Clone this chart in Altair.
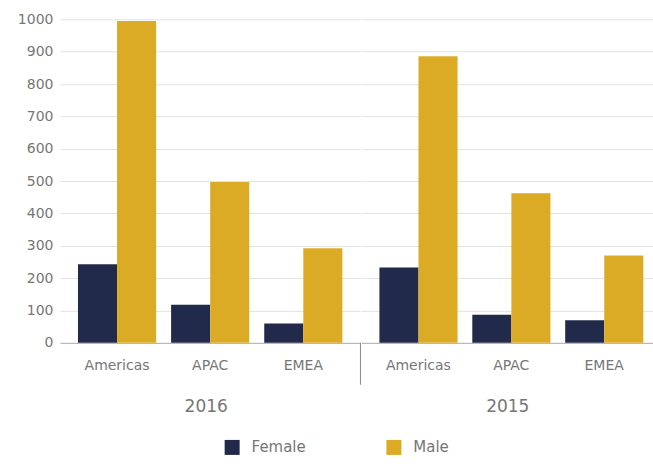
import altair as alt
import pandas as pd

regions = ["Americas", "APAC", "EMEA"]
years = ["2016", "2015"]
genders = ["Female", "Male"]
female_2016 = [243, 118, 60]
male_2016 = [995, 497, 292]
female_2015 = [233, 87, 70]
male_2015 = [886, 462, 270]

series = {
    ("2016", "Female"): female_2016,
    ("2016", "Male"): male_2016,
    ("2015", "Female"): female_2015,
    ("2015", "Male"): male_2015,
}
rows = []
for (yr, g), vals in series.items():
    for r, v in zip(regions, vals):
        rows.append({"year": yr, "gender": g, "region": r, "value": v})
df = pd.DataFrame(rows)

NAVY = "#212a4a"
GOLD = "#dcab26"
TXT = "#767676"
FONT = "DejaVu Sans"
PW = 301
PW2 = 292
PH = 324
GRID = {"condition": {"test": "datum.value === 0", "value": "#a8a8a8"}, "value": "#e2e2e2"}


def panel(year, first):
    sub = df[df["year"] == year]
    if first:
        yaxis = alt.Axis(title=None, values=list(range(0, 1001, 100)), format="d", domain=False,
                         ticks=False, gridColor=GRID, labelPadding=7, labelFontSize=14,
                         labelColor=TXT, labelFont=FONT)
        xscale = alt.Scale(paddingInner=0.161, paddingOuter=0.194)
    else:
        yaxis = alt.Axis(title=None, values=list(range(0, 1001, 100)), labels=False, domain=False,
                         ticks=False, gridColor=GRID)
        xscale = alt.Scale(paddingInner=0.161, paddingOuter=0.15, align=0.645)
    bars = alt.Chart(sub).mark_bar().encode(
        x=alt.X("region:N", sort=regions, scale=xscale,
                axis=alt.Axis(title=year, labelAngle=0, ticks=False, domain=False,
                              labelPadding=16, labelFontSize=14, labelColor=TXT, labelFont=FONT,
                              titleFontSize=17, titleFontWeight="normal", titleColor=TXT,
                              titleFont=FONT, titlePadding=26, titleX=146, titleAlign="center")),
        xOffset=alt.XOffset("gender:N", sort=genders),
        y=alt.Y("value:Q", scale=alt.Scale(domain=[0, 1000]), axis=yaxis),
        color=alt.Color("gender:N", scale=alt.Scale(domain=genders, range=[NAVY, GOLD]),
                        legend=alt.Legend(title=None, orient="none", legendX=165, legendY=421,
                                          direction="horizontal", symbolType="square",
                                          symbolSize=225, symbolStrokeWidth=0, labelFontSize=15,
                                          labelOffset=12, columnPadding=80, labelColor=TXT,
                                          labelFont=FONT)),
    )
    layers = [bars]
    if first:
        sep = alt.Chart(sub).mark_rule(color="#888888", strokeWidth=1).encode(
            x=alt.value(PW), y=alt.value(PH), y2=alt.value(PH + 42)
        ).transform_filter("datum.region == 'Americas' && datum.gender == 'Female'")
        layers.append(sep)
    return alt.layer(*layers).properties(width=PW if first else PW2, height=PH)


chart = alt.hconcat(panel("2016", True), panel("2015", False), spacing=0).properties(
    padding={"left": 17, "top": 12, "right": 0, "bottom": 0}
).configure_view(stroke=None)

chart.save("out.html", embed_options={"renderer": "svg", "actions": False})
